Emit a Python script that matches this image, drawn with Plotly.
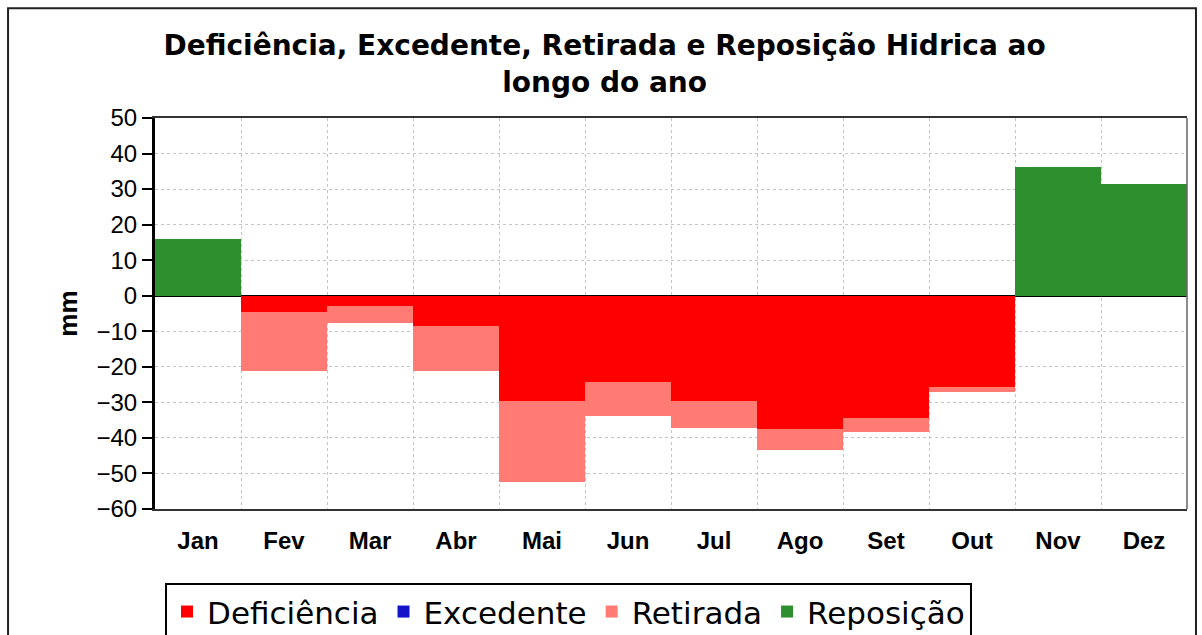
import plotly.graph_objects as go

months = ["Jan", "Fev", "Mar", "Abr", "Mai", "Jun", "Jul", "Ago", "Set", "Out", "Nov", "Dez"]
deficiencia = [0, -4.5, -2.8, -8.4, -29.6, -24.4, -29.7, -37.6, -34.3, -25.8, 0, 0]
excedente = [0, 0, 0, 0, 0, 0, 0, 0, 0, 0, 0, 0]
retirada = [0, -16.7, -5.0, -12.8, -22.9, -9.5, -7.4, -5.7, -4.0, -1.4, 0, 0]
reposicao = [16.1, 0, 0, 0, 0, 0, 0, 0, 0, 0, 36.2, 31.4]

ARIAL = "Arial, Liberation Sans, sans-serif"
WIDE = "DejaVu Sans, Arial, sans-serif"

fig = go.Figure()
fig.add_trace(go.Bar(x=months, y=deficiencia, name="Deficiência", marker=dict(color="#FF0000", line=dict(width=0))))
fig.add_trace(go.Bar(x=months, y=excedente, name="Excedente", marker=dict(color="#1414C8", line=dict(width=0))))
fig.add_trace(go.Bar(x=months, y=retirada, name="Retirada", marker=dict(color="#FF7B74", line=dict(width=0))))
fig.add_trace(go.Bar(x=months, y=reposicao, name="Reposição", marker=dict(color="#2E8F2E", line=dict(width=0))))

fig.update_layout(
    width=1202, height=635,
    barmode="relative", bargap=0,
    paper_bgcolor="white", plot_bgcolor="white",
    margin=dict(l=155, r=15, t=118, b=126, autoexpand=False),
    font=dict(family=ARIAL, color="black"),
    title=dict(
        text="<b>Deficiência, Excedente, Retirada e Reposição Hidrica ao<br>longo do ano</b>",
        x=0.503, xanchor="center", y=0.913, yanchor="middle",
        font=dict(size=28, family=WIDE, color="black"),
    ),
    showlegend=True,
    legend=dict(
        orientation="h", x=0.0097, xanchor="left", y=-0.189, yanchor="top",
        font=dict(size=31, family=WIDE, color="black"),
        bordercolor="black", borderwidth=2, bgcolor="white",
        itemsizing="constant", traceorder="normal",
    ),
)

fig.update_xaxes(
    type="category", tickson="boundaries",
    showgrid=True, gridcolor="#C4C4C4", griddash="dot", gridwidth=1,
    showline=True, linecolor="#333333", linewidth=1.5, mirror=True,
    ticks="", ticklabelstandoff=9,
    tickfont=dict(size=24, family=ARIAL, color="black"),
    tickprefix="<b>", ticksuffix="</b>",
)
fig.update_yaxes(
    range=[-60, 50], tickvals=list(range(-60, 51, 10)),
    showgrid=True, gridcolor="#C4C4C4", griddash="dot", gridwidth=1,
    zeroline=True, zerolinecolor="black", zerolinewidth=2,
    showline=True, linecolor="black", linewidth=3,
    ticks="outside", ticklen=10, tickwidth=2, tickcolor="black",
    tickfont=dict(size=24, family=ARIAL, color="black"),
    title=dict(text="<b>mm</b>", font=dict(size=26, family=ARIAL, color="black"), standoff=12),
)

# plot area right border and outer chart frame
fig.add_shape(type="line", xref="paper", yref="paper", x0=1, x1=1, y0=0, y1=1,
              line=dict(color="#666666", width=1.5))
fig.add_shape(type="rect", xref="paper", yref="paper",
              x0=-0.1424, x1=1.0087, y0=-0.34, y1=1.281,
              line=dict(color="#222222", width=2), layer="below")

fig.write_html("out.html", config={"displayModeBar": False},
               post_script="document.body.style.margin='0px';")
